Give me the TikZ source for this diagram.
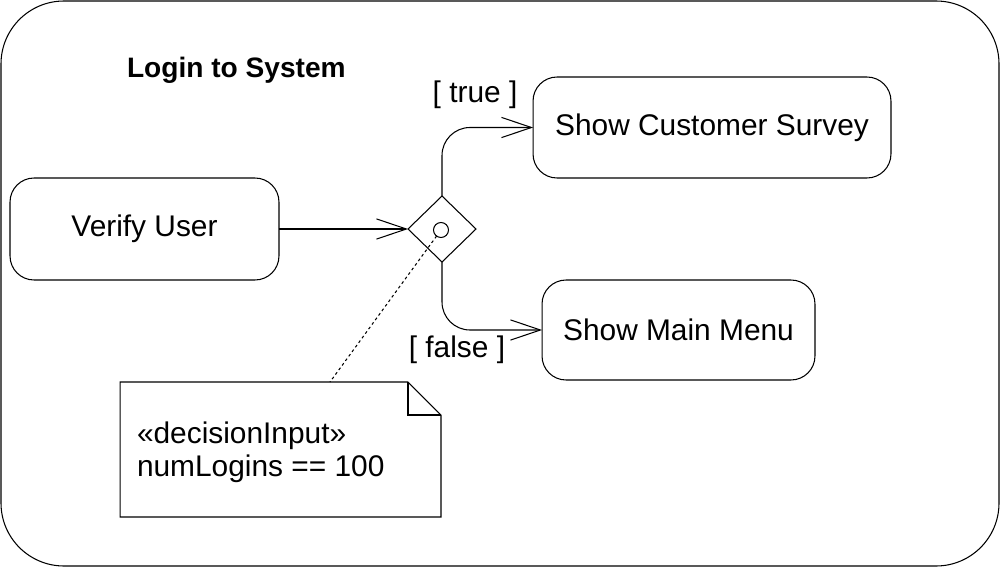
\documentclass[tikz,border=0pt]{standalone}
\usepackage{fontspec}
\setmainfont{Liberation Sans}
\usetikzlibrary{shapes.geometric,arrows.meta}
\begin{document}
\begin{tikzpicture}[x=0.02cm,y=-0.02cm,
  every node/.style={inner sep=0pt, outer sep=0pt},
  line/.style={line width=0.6pt},
  txt/.style={font=\fontsize{17}{18.8}\selectfont},
  action/.style={draw, line width=0.6pt, rounded corners=0.48cm, txt},
  flow/.style={line width=0.6pt, -{Straight Barb[length=17pt,width=11.5pt,line width=0.6pt]}},
  guard/.style={txt, anchor=base},
]
\useasboundingbox (0,0) rectangle (1000,568);
\draw[line, rounded corners=1.26cm] (1,1) rectangle (999,566);
\node[anchor=base west, font=\bfseries\fontsize{16}{18}\selectfont] (title) at (127,77) {Login to System};
\node[action, minimum width=5.38cm, minimum height=2.04cm] (vu) at (144.5,229) {Verify User};
\node[action, minimum width=7.16cm, minimum height=2.02cm] (scs) at (712,127.5) {Show Customer Survey};
\node[action, minimum width=5.46cm, minimum height=2cm] (smm) at (678.5,330) {Show Main Menu};
\node[draw, line, diamond, minimum width=1.36cm, minimum height=1.32cm] (dec) at (442,229) {};
\node[draw, line, circle, minimum size=0.3cm] (din) at (441,230) {};
\draw[flow] (vu) -- (dec);
\draw[flow, rounded corners=0.56cm] (dec.north) |- (scs.west);
\draw[flow, rounded corners=0.56cm] (dec.south) |- (smm.west);
\node[guard] (lt) at (475,102) {[ true ]};
\node[guard] (lf) at (457,357) {[ false ]};
\node[minimum width=6.42cm, minimum height=2.7cm] (note) at (280.5,449.5) {};
\draw[line] (note.north west) -- ([xshift=-0.66cm]note.north east) -- ([yshift=-0.66cm]note.north east) -- (note.south east) -- (note.south west) -- cycle;
\draw[line] ([xshift=-0.66cm]note.north east) |- ([yshift=-0.66cm]note.north east);
\node[txt, anchor=west, align=left] (ntext) at (137,452) {«decisionInput»\\numLogins == 100};
\coordinate (nt) at (330,382);
\draw[line, dash pattern=on 1.6pt off 1.6pt] (din) -- (nt);
\end{tikzpicture}
\end{document}
